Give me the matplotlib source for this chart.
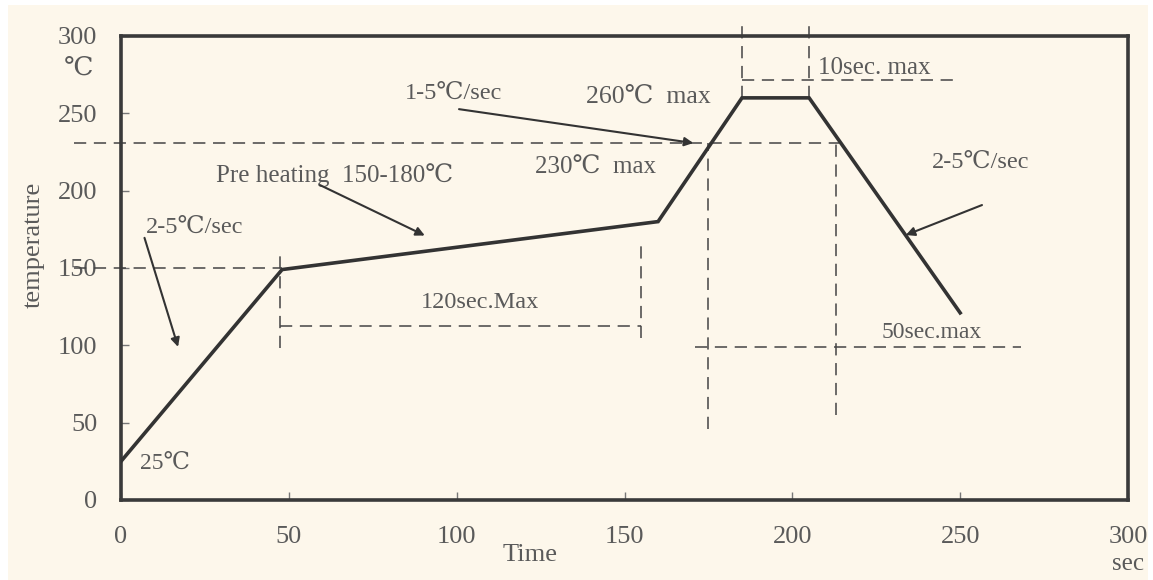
import matplotlib
matplotlib.use("Agg")
import matplotlib.pyplot as plt
from matplotlib.patches import Rectangle

plt.rcParams['font.family'] = ['Liberation Serif', 'DejaVu Serif', 'Noto Sans CJK JP']

# reflow profile (time in sec, temperature in C)
time_s = [0, 48, 160, 185, 205, 250]
temp_c = [25, 149, 180, 260, 260, 121]

x_ticks = [0, 50, 100, 150, 200, 250, 300]
y_ticks = [0, 50, 100, 150, 200, 250, 300]

# dashed guide lines: (x0, x1, y0, y1)
guides = [
    (-14, 214, 230.5, 230.5),    # 230C line
    (-14, 48, 150, 150),         # 150C line
    (47.5, 47.5, 98, 158),
    (47.5, 155, 112.5, 112.5),   # 120 sec span
    (155, 155, 105, 165),
    (175, 175, 46, 230.5),
    (213, 213, 55, 230.5),
    (171, 268, 99, 99),          # 50 sec span
    (185, 185, 260, 310),
    (205, 205, 260, 310),
    (185, 250, 271.5, 271.5),    # 10 sec span
]

# arrows: (text, text_xy, tail_xy, head_xy, fontsize)
arrows = [
    ("2-5\u2103/sec", (22, 176), (7, 169.5), (17, 99), 17.5),
    ("Pre heating  150-180\u2103", (63.5, 210), (59.3, 203.6), (90.5, 171), 18),
    ("1-5\u2103/sec", (99, 263), (100.7, 252.7), (170.5, 230.8), 17.5),
    ("2-5\u2103/sec", (256, 218), (256.5, 190.7), (233.8, 171.3), 17.5),
]

# plain labels: (text, x, y, fontsize)
labels = [
    ("25\u2103", 13, 24, 17),
    ("260\u2103  max", 157, 260.5, 18.5),
    ("230\u2103  max", 141.5, 214.5, 18),
    ("120sec.Max", 107, 127.5, 17.5),
    ("50sec.max", 241.5, 108, 17),
]

ink = '#333333'
txt = '#5a5a5a'

fig = plt.figure(figsize=(11.53, 5.80), dpi=100)
fig.patch.set_facecolor('white')
fig.patches.append(Rectangle((8 / 1153, 0), 1140 / 1153, 575 / 580,
                             transform=fig.transFigure, facecolor='#fdf7eb',
                             edgecolor='none', zorder=-10))

ax = fig.add_axes([121 / 1153, 80 / 580, 1007 / 1153, 464 / 580])
ax.set_facecolor('#fdf7eb')
ax.set_xlim(0, 300)
ax.set_ylim(0, 300)

for sp in ax.spines.values():
    sp.set_linewidth(2.6)
    sp.set_color('#3a3a3a')

ax.set_xticks(x_ticks)
ax.set_yticks(y_ticks)
ax.tick_params(direction='in', length=6, width=1, color='#777777',
               labelcolor=txt, labelsize=19)
ax.tick_params(axis='y', pad=17)
ax.tick_params(axis='x', pad=19)

for x0, x1, y0, y1 in guides:
    ax.plot([x0, x1], [y0, y1], color='#444444', lw=1.1, dashes=(8, 5),
            clip_on=False, zorder=2)

ax.plot(time_s, temp_c, color=ink, lw=2.6, solid_joinstyle='miter', zorder=3)

for text, txy, tail, head, fs in arrows:
    ax.text(txy[0], txy[1], text, fontsize=fs, color=txt, ha='center', va='center')
    ax.annotate('', xy=head, xytext=tail,
                arrowprops=dict(arrowstyle='-|>', color=ink, lw=1.5,
                                mutation_scale=13, shrinkA=0, shrinkB=0))

for text, x, y, fs in labels:
    ax.text(x, y, text, fontsize=fs, color=txt, ha='center', va='center')

ax.text(207.5, 279, "10sec. max", fontsize=18, color=txt, ha='left', va='center',
        clip_on=False)

fig.text(79 / 1153, 1 - 69 / 580, "\u2103", fontsize=19, color=txt,
         ha='center', va='center')
fig.text(34 / 1153, 1 - 245 / 580, "temperature", fontsize=19, color=txt,
         rotation=90, ha='center', va='center')
fig.text(530 / 1153, 1 - 555 / 580, "Time", fontsize=19, color=txt,
         ha='center', va='center')
fig.text(1128 / 1153, 1 - 564 / 580, "sec", fontsize=18, color=txt,
         ha='center', va='center')

fig.savefig('out.png', dpi=100)
